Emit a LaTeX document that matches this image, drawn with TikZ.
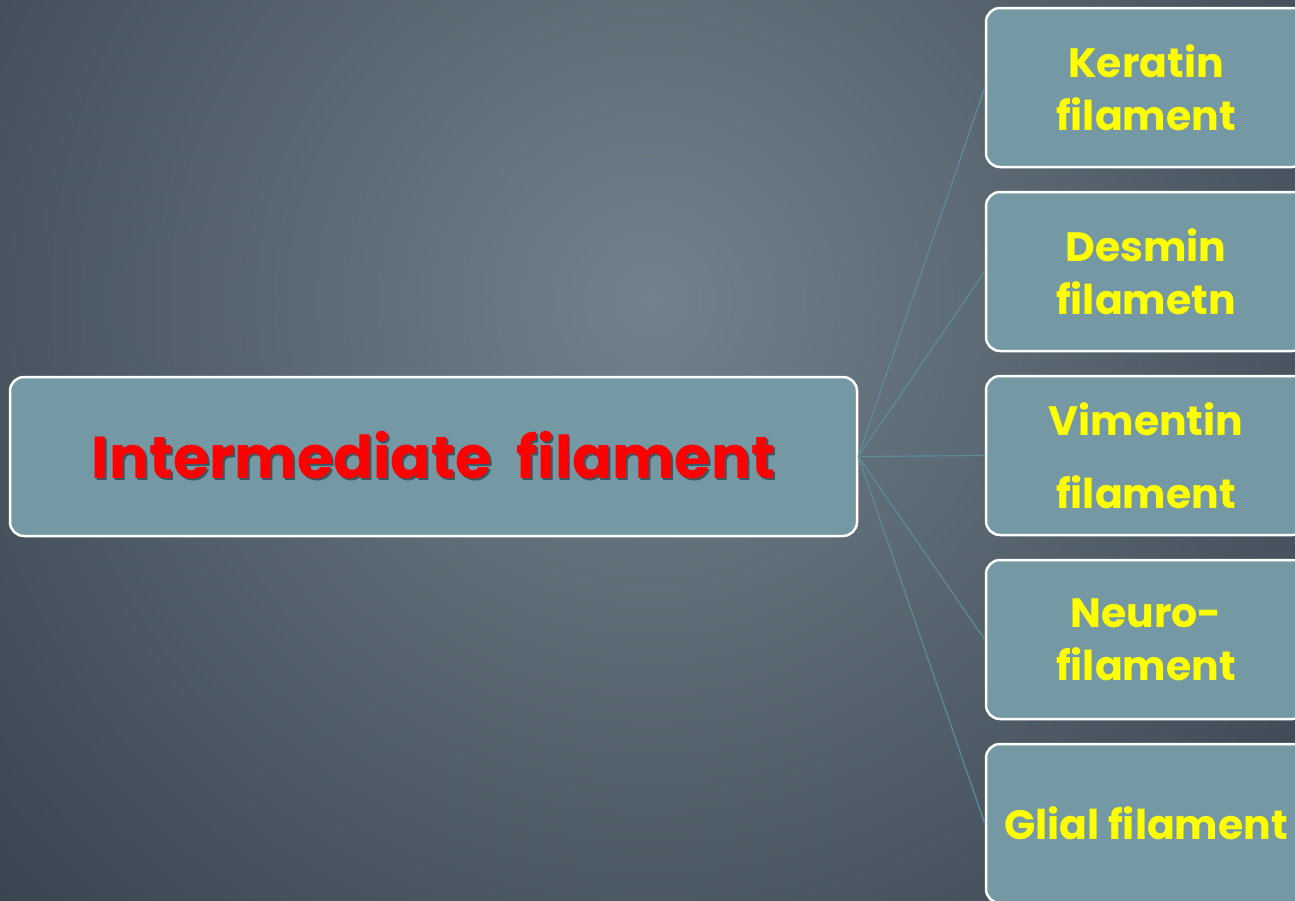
\documentclass[tikz,border=0pt]{standalone}
\usepackage{fontspec}
\setmainfont{Poppins}[BoldFont={Poppins Bold}]
\usetikzlibrary{positioning}
\definecolor{bginner}{HTML}{72818B}
\definecolor{bgouter}{HTML}{2E3A45}
\definecolor{boxfill}{HTML}{7599A4}
\definecolor{linkcol}{HTML}{5B8C97}
\definecolor{shadowcol}{HTML}{3E5660}
\definecolor{labelyellow}{HTML}{FFFF00}
\definecolor{labelred}{HTML}{FF0000}
\tikzset{
  filbox/.style={draw=white,line width=2.5pt,fill=boxfill,rounded corners=14pt,
    minimum width=320pt,minimum height=159pt,inner sep=0pt,align=center,
    text=labelyellow,font=\bfseries\fontsize{41}{53}\selectfont},
  mainbox/.style={filbox,minimum width=847pt,text=labelred,
    font=\bfseries\fontsize{59}{64}\selectfont},
  link/.style={draw=linkcol,line width=1.2pt}
}
\newcommand{\shadowtext}[1]{\makebox[0pt][l]{\hspace{2pt}\raisebox{-2pt}{\textcolor{shadowcol}{#1}}}#1}
\begin{document}
\begin{tikzpicture}[x=1pt,y=-1pt]
% backdrop
\useasboundingbox (0,0) rectangle (1295,900);
\begin{scope}
\clip (0,0) rectangle (1295,900);
\shade[inner color=bginner,outer color=bgouter] (650,300) circle[radius=1050];
\end{scope}
% boxes
\node[mainbox] (inter) at (433.5,456.5) {\shadowtext{Intermediate~ filament}};
\node[filbox] (keratin) at (1146,87.5) {Keratin\\filament};
\node[filbox,below=22.5pt of keratin] (desmin) {Desmin\\filametn};
\node[filbox,below=22.5pt of desmin,font=\bfseries\fontsize{41}{73}\selectfont] (vimentin) {Vimentin\\filament};
\node[filbox,below=22.5pt of vimentin] (neuro) {Neuro-\\filament};
\node[filbox,below=22.5pt of neuro] (glial) {Glial filament};
% links
\foreach \n in {keratin,desmin,vimentin,neuro,glial}
  \draw[link] (inter.east) -- (\n.west);
\end{tikzpicture}
\end{document}
